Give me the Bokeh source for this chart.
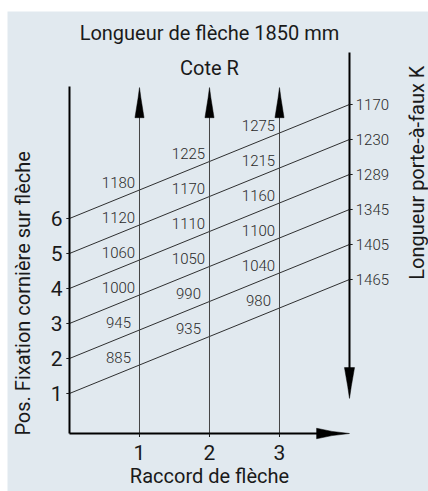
import numpy as np
from bokeh.plotting import figure
from bokeh.models import Range1d
from bokeh.core.properties import value
from bokeh.embed import file_html
from bokeh.resources import INLINE

# ---- data ----
positions = [1, 2, 3, 4, 5, 6]                      # Pos. Fixation cornière sur flèche
porte_a_faux = [1465, 1405, 1345, 1289, 1230, 1170]  # Longueur porte-à-faux K
raccords = [1, 2, 3]                                 # Raccord de flèche
cote_r_1 = [885, 945, 1000, 1060, 1120, 1180]        # Cote R at raccord 1
cote_r_2 = [935, 990, 1050, 1110, 1170, 1225]        # Cote R at raccord 2
cote_r_3 = [980, 1040, 1100, 1160, 1215, 1275]       # Cote R at raccord 3
cote_r = [cote_r_1, cote_r_2, cote_r_3]

title_text = "Longueur de flèche 1850 mm"
top_label = "Cote R"
x_label = "Raccord de flèche"
y_label = "Pos. Fixation cornière sur flèche"
k_label = "Longueur porte-à-faux K"

# ---- layout constants ----
FONT = "Roboto"
LIGHT_FONT = "Roboto Light, Roboto"
BG = "#e1e9ef"
INK = "#1a1a1a"
X_RIGHT = 4.0        # position of the K scale
RISE = 3.257         # vertical offset of the K scale relative to the position scale
SLOPE = RISE / X_RIGHT
Y_BASE = -0.143      # horizontal axis level
Y_LEFT_TOP = 9.77
TIP = 9.74           # tips of the Cote R arrows
K_TOP = 10.74
K_TIP = 0.86

p = figure(width=428, height=491,
           x_range=Range1d(-0.8857, 5.1286), y_range=Range1d(-1.8, 11.914),
           x_axis_location=None, y_axis_location=None,
           output_backend="svg", toolbar_location=None,
           min_border_left=7, min_border_right=0, min_border_bottom=0, min_border_top=11,
           background_fill_color=BG, border_fill_color="white", outline_line_color=None)
p.grid.visible = False

# sloped nomogram lines
p.segment(x0=[0] * len(positions), y0=positions,
          x1=[X_RIGHT] * len(positions), y1=[k + RISE for k in positions],
          line_color=INK, line_width=0.9)

# Cote R vertical lines with arrowheads
p.segment(x0=raccords, y0=[Y_BASE] * 3, x1=raccords, y1=[TIP - 0.5] * 3,
          line_color="#444444", line_width=1)
p.patches(xs=[[c - 0.065, c - 0.02, c, c + 0.02, c + 0.065] for c in raccords],
          ys=[[TIP - 0.86, TIP - 0.3, TIP, TIP - 0.3, TIP - 0.86] for c in raccords],
          fill_color="black", line_color="black", line_width=0.5)

# left axis
p.segment(x0=[0], y0=[Y_BASE], x1=[0], y1=[Y_LEFT_TOP], line_color="black", line_width=2)
p.segment(x0=[-0.045] * 6, y0=positions, x1=[0] * 6, y1=positions, line_color=INK, line_width=1)
p.text(x=[-0.1] * 6, y=positions, text=[str(k) for k in positions],
       text_font=value(FONT), text_font_size="21px", text_color=INK,
       text_align="right", text_baseline="middle")

# bottom axis with arrow
p.segment(x0=[0], y0=[Y_BASE], x1=[3.6], y1=[Y_BASE], line_color="black", line_width=2)
p.patches(xs=[[3.53, 3.75, X_RIGHT, 3.75, 3.53]],
          ys=[[Y_BASE + 0.15, Y_BASE + 0.06, Y_BASE, Y_BASE - 0.06, Y_BASE - 0.15]],
          fill_color="black", line_color="black", line_width=0.5)
p.segment(x0=raccords, y0=[Y_BASE] * 3, x1=raccords, y1=[Y_BASE - 0.1] * 3,
          line_color=INK, line_width=1)
p.text(x=raccords, y=[-0.69] * 3, text=[str(c) for c in raccords],
       text_font=value(FONT), text_font_size="21px", text_color=INK,
       text_align="center", text_baseline="middle")

# right K axis with downward arrow
p.segment(x0=[X_RIGHT], y0=[K_TOP], x1=[X_RIGHT], y1=[1.7], line_color="black", line_width=2)
p.patches(xs=[[X_RIGHT - 0.072, X_RIGHT - 0.025, X_RIGHT, X_RIGHT + 0.025, X_RIGHT + 0.072]],
          ys=[[1.74, 1.2, K_TIP, 1.2, 1.74]],
          fill_color="black", line_color="black", line_width=0.5)
p.segment(x0=[X_RIGHT] * 6, y0=[k + RISE for k in positions],
          x1=[X_RIGHT + 0.045] * 6, y1=[k + RISE for k in positions], line_color=INK, line_width=1)
p.text(x=[X_RIGHT + 0.09] * 6, y=[k + RISE for k in positions], text=[str(v) for v in porte_a_faux],
       text_font=value(LIGHT_FONT), text_font_size="15px", text_color="#2a2a2a",
       text_align="left", text_baseline="middle")

# Cote R values on the lines
for c, vals in zip(raccords, cote_r):
    xl = c - 0.3
    p.text(x=[xl] * 6, y=[k + SLOPE * xl + 0.46 for k in positions], text=[str(v) for v in vals],
           text_font=value(LIGHT_FONT), text_font_size="15px", text_color="#2a2a2a",
           text_align="center", text_baseline="middle")

# titles and axis labels
p.text(x=[2.0], y=[11.31], text=[title_text], text_font=value(FONT), text_font_size="20px",
       text_color=INK, text_align="center", text_baseline="middle")
p.text(x=[2.0], y=[10.31], text=[top_label], text_font=value(FONT), text_font_size="20px",
       text_color=INK, text_align="center", text_baseline="middle")
p.text(x=[2.0], y=[-1.37], text=[x_label], text_font=value(FONT), text_font_size="20px",
       text_color=INK, text_align="center", text_baseline="middle")
p.text(x=[-0.671], y=[3.86], text=[y_label], angle=np.pi / 2, text_font=value(FONT),
       text_font_size="20px", text_color=INK, text_align="center", text_baseline="middle")
p.text(x=[4.96], y=[7.31], text=[k_label], angle=np.pi / 2, text_font=value(FONT),
       text_font_size="20px", text_color=INK, text_align="center", text_baseline="middle")

open("out.html", "w").write(file_html(p, INLINE))
